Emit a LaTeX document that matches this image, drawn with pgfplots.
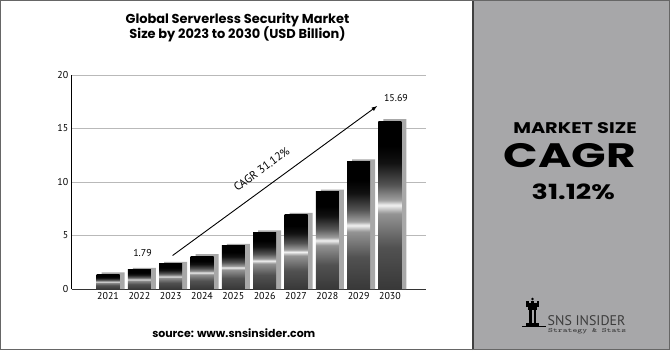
\documentclass[border=0pt]{standalone}
\usepackage{fontspec}
\setmainfont{PT Sans}
\newfontfamily\popfont{Poppins}
\usepackage{graphicx}
\usepackage{pgfplots}
\pgfplotsset{compat=1.18}
\definecolor{panel}{RGB}{167,167,169}
\definecolor{shadowc}{RGB}{168,168,168}
\definecolor{gridc}{RGB}{185,185,185}
\definecolor{logoc}{RGB}{60,60,60}
\pgfdeclareverticalshading{barshade}{100bp}{rgb(0bp)=(0.22,0.22,0.22); rgb(25bp)=(0.22,0.22,0.22); rgb(37.5bp)=(0.32,0.32,0.32); rgb(47.5bp)=(0.58,0.58,0.58); rgb(50bp)=(0.95,0.95,0.95); rgb(51.5bp)=(0.62,0.62,0.62); rgb(56bp)=(0.33,0.33,0.33); rgb(62.5bp)=(0.07,0.07,0.07); rgb(67.5bp)=(0,0,0); rgb(100bp)=(0,0,0)}
\pgfplotsset{mainbar/.style={ybar, bar width=23bp, bar shift=0bp, shade, shading=barshade, draw=none}}
\begin{document}
\begin{tikzpicture}
\begin{scope}[x=1bp,y=1bp]
\useasboundingbox (0,0) rectangle (670,350);
\fill[white] (0,0) rectangle (670,350);
\fill[panel] (473,0) rectangle (670,350);
\draw[black!75, line width=2bp] (473,0) -- (473,350);
\draw[black!60, line width=1.2bp] (0.6,0.6) rectangle (669.4,349.4);
\node[font=\popfont\bfseries\fontsize{13}{15}\selectfont] at (237.5,330) {Global Serverless Security Market};
\node[font=\popfont\bfseries\fontsize{13}{15}\selectfont] at (237.5,315.5) {Size by 2023 to 2030 (USD Billion)};
\node[font=\popfont\bfseries\fontsize{11}{13}\selectfont] at (233.8,17.3) {source: www.snsinsider.com};
\node[font=\popfont\bfseries\fontsize{15.5}{18}\selectfont] at (575,221.7) {\scalebox{1.25}[1]{MARKET SIZE}};
\node[font=\popfont\bfseries\fontsize{34}{40}\selectfont] at (570,194.7) {\scalebox{1.34}[1]{CAGR}};
\node[font=\popfont\bfseries\fontsize{21}{25}\selectfont] at (573.3,158.7) {\scalebox{1.29}[1]{31.12\%}};
% logo
\fill[black] (532.5,51) circle (1.4);
\fill[black] (526,47) rectangle (539,43);
\fill[black] (526,47) rectangle (528.5,49.5);\fill[black] (531,47) rectangle (534,49.5);\fill[black] (536.5,47) rectangle (539,49.5);
\fill[black] (528,43) rectangle (537,40);
\fill[black] (529,40) rectangle (532,27);
\fill[black] (533.5,40) rectangle (536,27);
\fill[black] (526,27) rectangle (539,24.5);
\fill[black] (522,24.5) rectangle (546,23.2);
\node[font=\fontsize{14}{16}\selectfont, text=logoc, anchor=west, inner sep=0] at (547.5,29) {SNS INSIDER};
\node[text=logoc, anchor=west, inner sep=0] at (548,18.5) {\resizebox{78bp}{4bp}{\ttfamily\bfseries Strategy \& Stats}};
\end{scope}
\begin{axis}[at={(71.7bp,61bp)}, anchor=south west, scale only axis,
  width=354.3bp, height=214bp,
  xmin=-1.16, xmax=10.15, ymin=0, ymax=20,
  xtick={0,...,9}, xticklabels={2021,2022,2023,2024,2025,2026,2027,2028,2029,2030},
  ytick={0,5,10,15,20},
  axis lines*=left, major tick length=0,
  ymajorgrids, grid style={gridc, line width=0.8bp},
  x axis line style={black!80, line width=1bp},
  y axis line style={black, line width=1bp},
  tick label style={font=\fontsize{10}{12}\selectfont},
  /pgf/number format/assume math mode=true,
  clip=false]
\addplot[ybar, bar width=23bp, bar shift=5bp, fill=shadowc, draw=none] coordinates {(0,1.55) (1,1.97) (2,2.53) (3,3.26) (4,4.21) (5,5.47) (6,7.12) (7,9.28) (8,12.11) (9,15.87)};
\addplot[mainbar] coordinates {(0,1.37)};
\addplot[mainbar] coordinates {(1,1.79)};
\addplot[mainbar] coordinates {(2,2.35)};
\addplot[mainbar] coordinates {(3,3.08)};
\addplot[mainbar] coordinates {(4,4.03)};
\addplot[mainbar] coordinates {(5,5.29)};
\addplot[mainbar] coordinates {(6,6.94)};
\addplot[mainbar] coordinates {(7,9.10)};
\addplot[mainbar] coordinates {(8,11.93)};
\addplot[mainbar] coordinates {(9,15.69)};
\draw[black, line width=0.9bp, -latex] (axis cs:2.06,3.13) -- (axis cs:8.59,17.10);
\node[rotate=36, font=\fontsize{11.5}{13}\selectfont] at (axis cs:4.90,11.20) {CAGR 31.12\%};
\node[font=\fontsize{10}{12}\selectfont] at (axis cs:1.10,3.32) {1.79};
\node[font=\fontsize{10}{12}\selectfont] at (axis cs:9.19,17.85) {15.69};
\end{axis}
\end{tikzpicture}
\end{document}
